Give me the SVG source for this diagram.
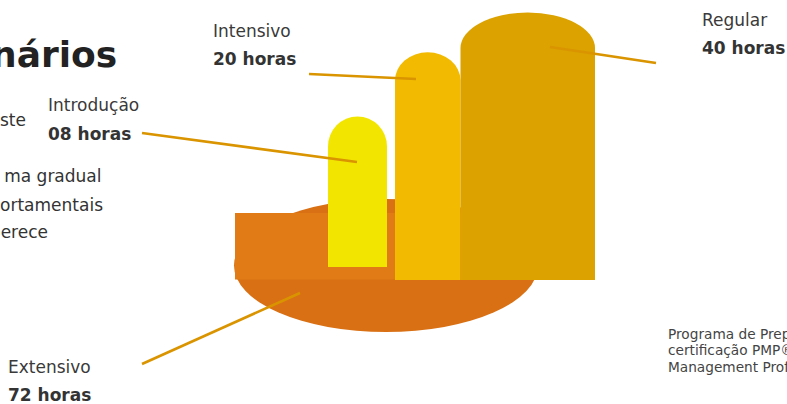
<svg xmlns="http://www.w3.org/2000/svg" width="787" height="404" viewBox="0 0 787 404">
<style>
text{font-family:"DejaVu Sans","Noto Sans",sans-serif;}
.title{font-size:36px;font-weight:bold;fill:#222;}
.para{font-size:17px;fill:#333;}
.lbl{font-size:17px;fill:#3a3a3a;}
.val{font-size:17px;font-weight:bold;fill:#333;}
.small{font-size:13.7px;fill:#444;}
.conn{stroke:#D99400;stroke-width:2.6;fill:none;stroke-linecap:butt;}
</style>
<rect width="787" height="404" fill="#fff"/>
<text class="title" x="-9" y="67">nários</text>
<g id="paragraph">
<text class="para" x="26" y="126" text-anchor="end">ste</text>
<text class="para" x="101.5" y="182" text-anchor="end">ma gradual</text>
<text class="para" x="103" y="210.5" text-anchor="end">ortamentais</text>
<text class="para" x="48" y="238" text-anchor="end">erece</text>
</g>
<g id="node-extensivo">
<ellipse cx="386" cy="265.5" rx="152" ry="66.5" fill="#D97014"/>
<rect x="235" y="213" width="303" height="66.5" fill="#E07B15"/>
<text class="lbl" x="8" y="373">Extensivo</text>
<text class="val" x="8" y="401">72 horas</text>
</g>
<g id="node-introducao">
<path d="M328,267 V146.5 A29.5,30 0 0 1 387,146.5 V267 Z" fill="#F2E600"/>
<text class="lbl" x="48" y="111">Introdução</text>
<text class="val" x="48" y="140">08 horas</text>
</g>
<g id="node-intensivo">
<path d="M395,280 V80.5 A32.5,28 0 0 1 460.5,80.5 V280 Z" fill="#F2BA00"/>
<text class="lbl" x="213" y="37">Intensivo</text>
<text class="val" x="213" y="65">20 horas</text>
</g>
<g id="node-regular">
<path d="M460.5,280 V48 A67.25,35.5 0 0 1 595,48 V280 Z" fill="#DBA200"/>
<text class="lbl" x="702" y="26">Regular</text>
<text class="val" x="702" y="54">40 horas</text>
</g>
<g id="connectors">
<line class="conn" x1="142" y1="133" x2="357" y2="162"/>
<line class="conn" x1="309" y1="74" x2="416" y2="79"/>
<line class="conn" x1="550" y1="47" x2="656" y2="63"/>
<line class="conn" x1="142" y1="364" x2="300" y2="293"/>
</g>
<g id="note">
<text class="small" x="668" y="338.5">Programa de Preparatório</text>
<text class="small" x="668" y="355">certificação PMP® do Project</text>
<text class="small" x="668" y="371.5">Management Professional</text>
</g>
</svg>
